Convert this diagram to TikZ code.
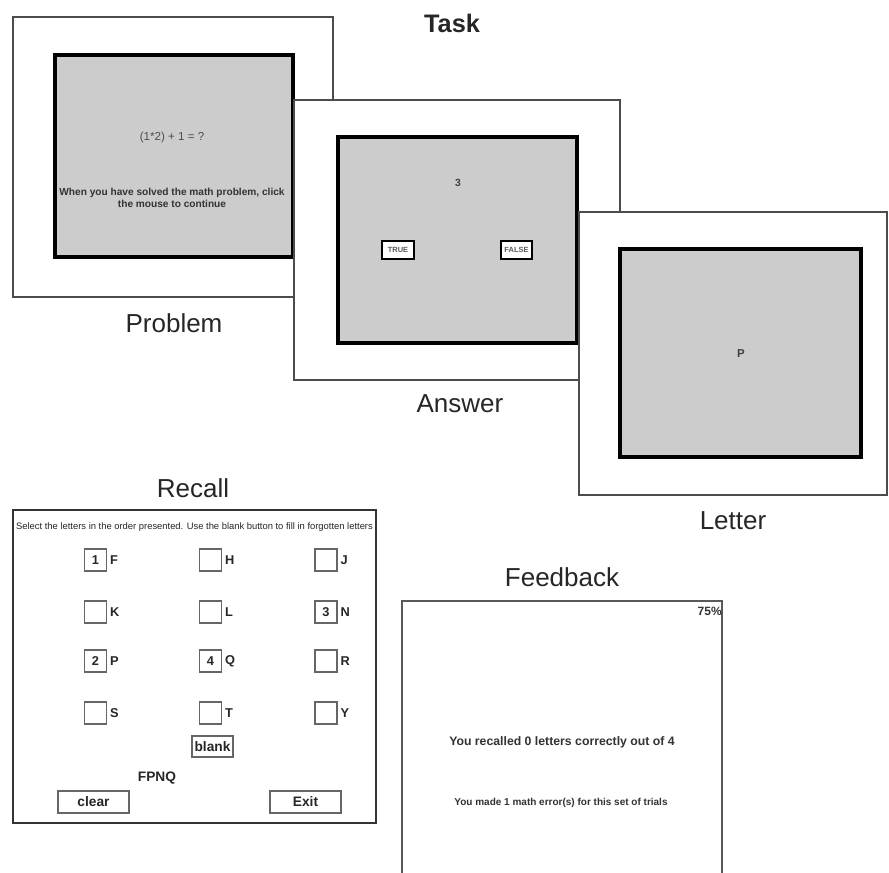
\documentclass[tikz,border=0pt]{standalone}
\usepackage{fontspec}
\setmainfont{Liberation Sans}
\definecolor{scr}{HTML}{CCCCCC}
\newcommand{\fsz}[1]{\fontsize{#1}{#1}\selectfont}
\begin{document}
\begin{tikzpicture}[x=0.75pt,y=-0.75pt,
  panel/.style={draw=black!70, line width=1.1pt, fill=white},
  screen/.style={draw=black, line width=2.3pt, fill=scr},
  lbl/.style={font=\fsz{19.5}, text=black!85, inner sep=0pt},
  tiny/.style={font=\bfseries\fsz{7.6}, text=black!80, inner sep=0pt},
  tfbtn/.style={draw=black, line width=1.8pt, fill=white, inner sep=0pt, minimum height=13.5pt, font=\bfseries\fsz{5.6}, text=black!65},
  rbox/.style={draw=black!60, line width=0.9pt, fill=white, minimum size=16.5pt, inner sep=0pt, font=\bfseries\fsz{9.6}, text=black!85},
  rlet/.style={anchor=west, inner sep=0pt, font=\bfseries\fsz{9.6}, text=black!85},
  rbtn/.style={draw=black!60, line width=0.9pt, fill=white, inner sep=0pt, font=\bfseries\fsz{10.3}, text=black!85}
]
\useasboundingbox (0,0) rectangle (889,873);

% Title
\node[lbl, font=\bfseries\fsz{19}] (task) at (452,23) {Task};

% Problem panel
\draw[panel] (13,17) rectangle (333,297);
\draw[screen] (55,55) rectangle (293,257);
\node[inner sep=0pt, font=\fsz{8.7}, text=black!70] (expr) at (172,138) {(1*2) + 1 = ?};
\node[tiny, align=center, font=\bfseries\fontsize{7.6}{9}\selectfont] (instr) at (172,198) {When you have solved the math problem, click\\the mouse to continue};
\node[lbl] (lproblem) at (174,323) {Problem};

% Answer panel
\draw[panel] (294,100) rectangle (620,380);
\draw[screen] (338,137) rectangle (577,343);
\node[inner sep=0pt, font=\bfseries\fsz{7.8}, text=black!75] (three) at (458,183) {3};
\node[tfbtn, minimum width=24pt] (true) at (398,250) {TRUE};
\node[tfbtn, minimum width=23.25pt] (false) at (516.5,250) {FALSE};
\node[lbl] (lanswer) at (460,404) {Answer};

% Letter panel
\draw[panel] (579,212) rectangle (887,495);
\draw[screen] (620,249) rectangle (861,457);
\node[inner sep=0pt, font=\bfseries\fsz{8.6}, text=black!75] (pletter) at (741,354) {P};
\node[lbl] (lletter) at (733,521) {Letter};

% Recall panel
\node[lbl] (lrecall) at (193,488) {Recall};
\draw[draw=black!80, line width=1.5pt, fill=white] (13,510) rectangle (376,823);
\node[inner sep=0pt, font=\fsz{7.05}, text=black!85] (rinstr) at (194.5,527) {Select the letters in the order presented. Use the blank button to fill in forgotten letters};

\foreach \col/\x in {1/95.5, 2/210.5, 3/326}{
  \foreach \row/\y in {1/560, 2/612, 3/661, 4/713}{
    \coordinate (c-\row-\col) at (\x,\y);
  }
}
\node[rbox] (b11) at (c-1-1) {1}; \node[rlet] (l11) at ([xshift=2pt]b11.east) {F};
\node[rbox] (b12) at (c-1-2) {};  \node[rlet] (l12) at ([xshift=2pt]b12.east) {H};
\node[rbox] (b13) at (c-1-3) {};  \node[rlet] (l13) at ([xshift=2pt]b13.east) {J};
\node[rbox] (b21) at (c-2-1) {};  \node[rlet] (l21) at ([xshift=2pt]b21.east) {K};
\node[rbox] (b22) at (c-2-2) {};  \node[rlet] (l22) at ([xshift=2pt]b22.east) {L};
\node[rbox] (b23) at (c-2-3) {3}; \node[rlet] (l23) at ([xshift=2pt]b23.east) {N};
\node[rbox] (b31) at (c-3-1) {2}; \node[rlet] (l31) at ([xshift=2pt]b31.east) {P};
\node[rbox] (b32) at (c-3-2) {4}; \node[rlet] (l32) at ([xshift=2pt]b32.east) {Q};
\node[rbox] (b33) at (c-3-3) {};  \node[rlet] (l33) at ([xshift=2pt]b33.east) {R};
\node[rbox] (b41) at (c-4-1) {};  \node[rlet] (l41) at ([xshift=2pt]b41.east) {S};
\node[rbox] (b42) at (c-4-2) {};  \node[rlet] (l42) at ([xshift=2pt]b42.east) {T};
\node[rbox] (b43) at (c-4-3) {};  \node[rlet] (l43) at ([xshift=2pt]b43.east) {Y};

\node[rbtn, minimum width=30.75pt, minimum height=15.75pt] (blank) at (212.5,746.5) {blank};
\node[inner sep=0pt, font=\bfseries\fsz{10.3}, text=black!85] (fpnq) at (157,778) {FPNQ};
\node[rbtn, minimum width=53.25pt, minimum height=16.5pt] (clear) at (93.5,802) {clear};
\node[rbtn, minimum width=53.25pt, minimum height=16.5pt] (exit) at (305.5,802) {Exit};

% Feedback panel
\node[lbl] (lfeedback) at (562,577) {Feedback};
\draw[draw=black!65, line width=1.5pt, fill=white] (402,880) -- (402,601) -- (722,601) -- (722,880);
\node[anchor=east, inner sep=0pt, font=\bfseries\fsz{9}, text=black!80] (pct) at (722,611) {75\%};
\node[inner sep=0pt, font=\bfseries\fsz{9.2}, text=black!80] (recalled) at (562,742) {You recalled 0 letters correctly out of 4};
\node[inner sep=0pt, font=\bfseries\fsz{7.5}, text=black!80] (errors) at (561,803) {You made 1 math error(s) for this set of trials};
\end{tikzpicture}
\end{document}
